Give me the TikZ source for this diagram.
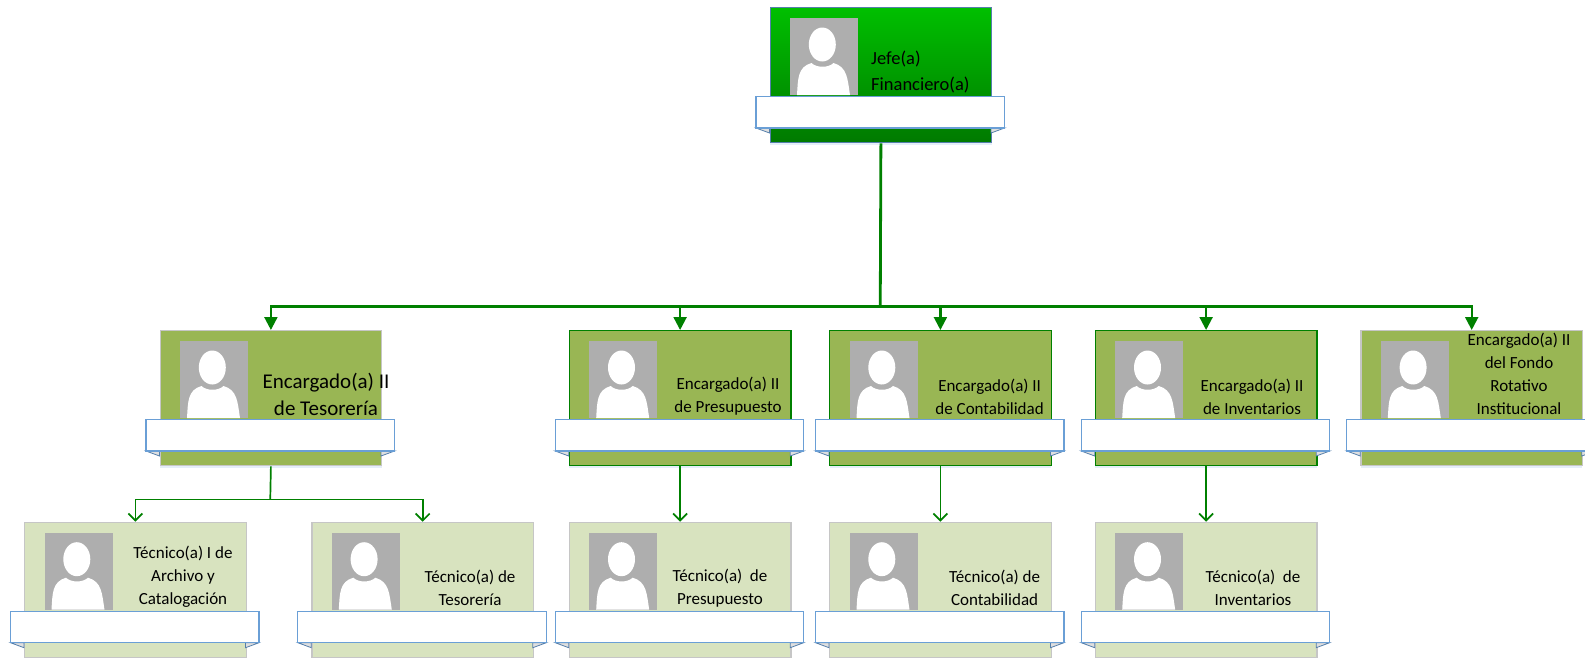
\documentclass[tikz,border=0pt]{standalone}
\usepackage{fontspec}
\setmainfont{Carlito}
\usetikzlibrary{arrows.meta,shadows}
\definecolor{oliva}{HTML}{99B654}
\definecolor{olivaclaro}{HTML}{D8E3BF}
\definecolor{verde}{HTML}{008000}
\definecolor{azul}{HTML}{6A9FD6}
\definecolor{gris}{HTML}{AEAEAE}
\tikzset{
	x=1pt, y=-1pt,
	card/.style={rectangle, anchor=north west, minimum width=221.5pt, minimum height=135pt, inner sep=0pt, line width=1.3pt,
		drop shadow={shadow xshift=0pt, shadow yshift=-2.5pt, fill=azul!35, opacity=0.5}},
	head/.style={card, draw=azul!80!black, top color=green!75!black, bottom color=verde!95!black},
	boss/.style={card, draw=verde, fill=oliva},
	bossgray/.style={card, draw=gris!70, fill=oliva},
	tech/.style={card, draw=gris!70, fill=olivaclaro},
	small/.style={align=center, font=\fontsize{17}{23}\selectfont},
	big/.style={align=center, font=\fontsize{21}{27}\selectfont},
	trunk/.style={draw=verde, line width=2.2pt},
	thin/.style={draw=verde, line width=1.7pt},
	solidtip/.style={-{Triangle[width=13pt,length=13pt]}},
	opentip/.style={-{Straight Barb[width=14pt,length=7pt]}},
	pics/photo/.style={code={
		\fill[gris] (20.5,11) rectangle (88.5,88);
		\fill[white] (52.8,37.5) ellipse [x radius=13.5, y radius=17];
		\fill[white] (27.5,88) .. controls (28.5,72) and (28,60) .. (42,56) .. controls (47,61) and (59,61) .. (64,56) .. controls (78,60) and (78,72) .. (80.5,88) -- cycle;
		\filldraw[fill=gray!25, draw=azul!80!black, line width=0.8pt] (-13.5,121) -- (0,126) -- (0,121) -- cycle;
		\filldraw[fill=gray!25, draw=azul!80!black, line width=0.8pt] (235,121) -- (221.5,126) -- (221.5,121) -- cycle;
		\filldraw[fill=white, draw=azul, line width=1.3pt] (-13.5,89.5) rectangle (235,121);
	}}
}
\begin{document}
\begin{tikzpicture}
	\useasboundingbox (0,0) rectangle (1585,657);
	\clip (0,0) rectangle (1585,657);
	% jefatura
	\node[head] (J) at (769.5, 7) {};
	\pic at (J.north west) {photo};
	\node[anchor=west, align=left, inner sep=0pt, font=\fontsize{18.5}{26}\selectfont] (JL) at (871, 72) {Jefe(a)\\Financiero(a)};
	% encargados
	\node[bossgray] (T) at (159.5, 330) {};
	\node[boss] (P) at (568.7, 330) {};
	\node[boss] (C) at (829, 330) {};
	\node[boss] (I) at (1094.7, 330) {};
	\node[bossgray] (F) at (1360.3, 330) {};
	\pic at (T.north west) {photo};
	\pic at (P.north west) {photo};
	\pic at (C.north west) {photo};
	\pic at (I.north west) {photo};
	\pic at (F.north west) {photo};
	\node[big] (TL) at (326, 394) {Encargado(a) II\\de Tesorería};
	\node[small] (PL) at (728, 396.5) {Encargado(a) II\\de Presupuesto};
	\node[small] (CL) at (989.6, 396.5) {Encargado(a) II\\de Contabilidad};
	\node[small] (IL) at (1252, 396.5) {Encargado(a) II\\de Inventarios};
	\node[small] (FL) at (1519, 373.5) {Encargado(a) II\\del Fondo\\Rotativo\\Institucional};
	% tecnicos
	\node[tech] (TA) at (24, 521.7) {};
	\node[tech] (TT) at (311.3, 521.7) {};
	\node[tech] (TP) at (568.7, 521.7) {};
	\node[tech] (TC) at (829, 521.7) {};
	\node[tech] (TI) at (1094.7, 521.7) {};
	\pic at (TA.north west) {photo};
	\pic at (TT.north west) {photo};
	\pic at (TP.north west) {photo};
	\pic at (TC.north west) {photo};
	\pic at (TI.north west) {photo};
	\node[small] (TAL) at (183, 577) {Técnico(a) I de\\Archivo y\\Catalogación};
	\node[small] (TTL) at (470, 588) {Técnico(a) de\\Tesorería};
	\node[small] (TPL) at (720, 588) {Técnico(a)\ \ de\\Presupuesto};
	\node[small] (TCL) at (994.6, 588) {Técnico(a) de\\Contabilidad};
	\node[small] (TIL) at (1253, 588) {Técnico(a)\ \ de\\Inventarios};
	% conectores
	\coordinate (R) at (880.25, 306.5);
	\coordinate (S) at (270.25, 499.5);
	\draw[trunk, line width=2.8pt] (J.south) -- (R);
	\draw[trunk, solidtip] (R) -| (T.north);
	\draw[trunk, solidtip] (R) -| (P.north);
	\draw[trunk, solidtip] (R) -| (C.north);
	\draw[trunk, solidtip] (R) -| (I.north);
	\draw[trunk, solidtip] (R) -| (F.north);
	\draw[thin] (T.south) -- (S);
	\draw[thin, opentip] (S) -| (TA.north);
	\draw[thin, opentip] (S) -| (TT.north);
	\draw[thin, opentip] (P.south) -- (TP.north);
	\draw[thin, opentip] (C.south) -- (TC.north);
	\draw[thin, opentip] (I.south) -- (TI.north);
\end{tikzpicture}
\end{document}
